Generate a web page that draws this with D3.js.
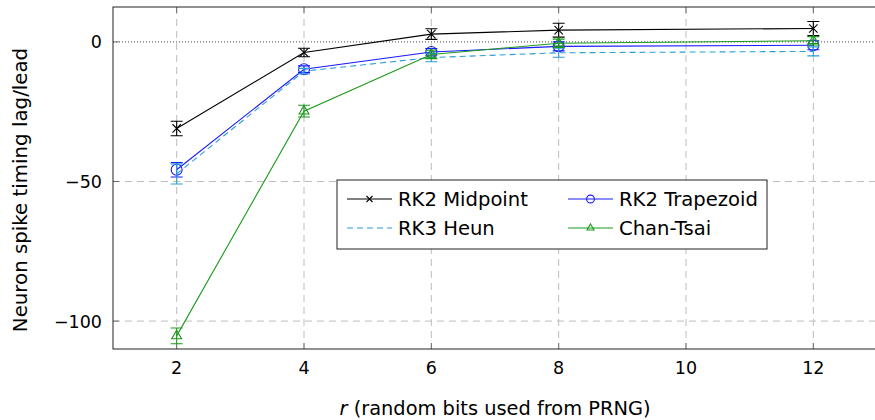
<!DOCTYPE html>
<html>
<head>
<meta charset="utf-8">
<style>
  body { margin: 0; background: #fff; }
  svg text { font-family: "DejaVu Sans", sans-serif; fill: #000; }
</style>
</head>
<body>
<div id="vis-lag"></div>
<script src="https://d3js.org/d3.v7.min.js"></script>
<script>

// Data //
// ---- //

const rBits = [2, 4, 6, 8, 12];

const midpointMean = [-31, -3.8, 2.8, 4.2, 4.8];
const midpointErr  = [2.6, 1.5, 1.9, 2.5, 2.5];

const trapezoidMean = [-45.8, -9.8, -3.6, -1.6, -1.2];
const trapezoidErr  = [2.6, 1.2, 1.2, 1.6, 1.6];

const heunMean = [-47.3, -10.5, -5.6, -3.9, -3.4];
const heunErr  = [3.6, 1.0, 1.5, 1.6, 1.6];

const chanTsaiMean = [-105.3, -24.8, -4.5, -0.5, 0.4];
const chanTsaiErr  = [2.8, 2.1, 1.5, 1.5, 1.5];

const xTicks = [2, 4, 6, 8, 10, 12];
const yTicks = [-100, -50, 0];

const seriesNames = ["RK2 Midpoint", "RK2 Trapezoid", "RK3 Heun", "Chan-Tsai"];


// Setup //
// ----- //

const W = 875, H = 420;
const svg = d3.select("#vis-lag").append("svg")
  .attr("width", W).attr("height", H);

const x = d3.scaleLinear().domain([1, 13]).range([113, 877]);
const y = d3.scaleLinear().domain([-110, 12.5]).range([349, 7]);

const series = [
  {name: seriesNames[0], mean: midpointMean, err: midpointErr, color: "#000000", dash: null, mark: "cross"},
  {name: seriesNames[1], mean: trapezoidMean, err: trapezoidErr, color: "#1a1aff", dash: null, mark: "circle"},
  {name: seriesNames[2], mean: heunMean, err: heunErr, color: "#2a9fd6", dash: "6,4", mark: null},
  {name: seriesNames[3], mean: chanTsaiMean, err: chanTsaiErr, color: "#1a9a1a", dash: null, mark: "triangle"}
];

// grid
svg.append("g").selectAll("line").data(xTicks).join("line")
  .attr("x1", d => x(d)).attr("x2", d => x(d))
  .attr("y1", y.range()[1]).attr("y2", y.range()[0])
  .attr("stroke", "#bdbdbd").attr("stroke-width", 1).attr("stroke-dasharray", "7,5");
svg.append("g").selectAll("line").data(yTicks.filter(d => d !== 0)).join("line")
  .attr("x1", x.range()[0]).attr("x2", x.range()[1])
  .attr("y1", d => y(d)).attr("y2", d => y(d))
  .attr("stroke", "#bdbdbd").attr("stroke-width", 1).attr("stroke-dasharray", "7,5");

// zero line
svg.append("line")
  .attr("x1", x.range()[0]).attr("x2", x.range()[1])
  .attr("y1", y(0)).attr("y2", y(0))
  .attr("stroke", "#444").attr("stroke-width", 1).attr("stroke-dasharray", "1,2");

// ticks (inside)
const tk = 6;
const ticks = svg.append("g").attr("stroke", "#555").attr("stroke-width", 0.8);
xTicks.forEach(d => {
  ticks.append("line").attr("x1", x(d)).attr("x2", x(d)).attr("y1", y.range()[0]).attr("y2", y.range()[0] - tk);
  ticks.append("line").attr("x1", x(d)).attr("x2", x(d)).attr("y1", y.range()[1]).attr("y2", y.range()[1] + tk);
});
yTicks.forEach(d => {
  ticks.append("line").attr("x1", x.range()[0]).attr("x2", x.range()[0] + tk).attr("y1", y(d)).attr("y2", y(d));
});

// frame
svg.append("rect")
  .attr("x", x.range()[0]).attr("y", y.range()[1])
  .attr("width", x.range()[1] - x.range()[0]).attr("height", y.range()[0] - y.range()[1])
  .attr("fill", "none").attr("stroke", "#222").attr("stroke-width", 1);

// tick labels
svg.append("g").selectAll("text").data(xTicks).join("text")
  .attr("x", d => x(d)).attr("y", 374)
  .attr("text-anchor", "middle").style("font-size", "17.5px")
  .text(d => d);
svg.append("g").selectAll("text").data(yTicks).join("text")
  .attr("x", 102).attr("y", d => y(d) + 6.5)
  .attr("text-anchor", "end").style("font-size", "17.5px")
  .text(d => d < 0 ? "\u2212" + Math.abs(d) : d);

// axis labels
const xl = svg.append("text")
  .attr("x", x(7)).attr("y", 415)
  .attr("text-anchor", "middle").style("font-size", "19.4px");
xl.append("tspan").style("font-style", "italic").text("r");
xl.append("tspan").text(" (random bits used from PRNG)");

svg.append("text")
  .attr("transform", "translate(27," + ((y.range()[0] + y.range()[1]) / 2 + 12) + ") rotate(-90)")
  .attr("text-anchor", "middle").style("font-size", "19.8px")
  .text("Neuron spike timing lag/lead");


// Markers //
// ------- //

function drawMark(g, kind, cx, cy, color, s) {
  if (kind === "cross") {
    g.append("path")
      .attr("d", `M${cx - s},${cy - s}L${cx + s},${cy + s}M${cx - s},${cy + s}L${cx + s},${cy - s}`)
      .attr("stroke", color).attr("stroke-width", 1.1).attr("fill", "none");
  } else if (kind === "circle") {
    g.append("circle").attr("cx", cx).attr("cy", cy).attr("r", s * 1.3)
      .attr("stroke", color).attr("stroke-width", 1.1).attr("fill", "none");
  } else if (kind === "triangle") {
    const r = s * 1.35;
    g.append("path")
      .attr("d", `M${cx},${cy - r}L${cx + r * 0.87},${cy + r * 0.5}L${cx - r * 0.87},${cy + r * 0.5}Z`)
      .attr("stroke", color).attr("stroke-width", 1.1).attr("fill", "none");
  }
}


// Series //
// ------ //

const line = d3.line().x(d => x(d[0])).y(d => y(d[1]));

series.forEach(s => {
  const g = svg.append("g");
  const pts = rBits.map((r, i) => [r, s.mean[i], s.err[i]]);

  // error bars
  pts.forEach(p => {
    const cx = x(p[0]), y1 = y(p[1] + p[2]), y2 = y(p[1] - p[2]);
    g.append("path")
      .attr("d", `M${cx},${y1}L${cx},${y2}M${cx - 6},${y1}L${cx + 6},${y1}M${cx - 6},${y2}L${cx + 6},${y2}`)
      .attr("stroke", s.color).attr("stroke-width", 1.1).attr("fill", "none");
  });

  g.append("path").datum(pts)
    .attr("d", line)
    .attr("fill", "none").attr("stroke", s.color).attr("stroke-width", 1.1)
    .attr("stroke-dasharray", s.dash);

  if (s.mark) pts.forEach(p => drawMark(g, s.mark, x(p[0]), y(p[1]), s.color, 4.2));
});


// Legend //
// ------ //

const leg = svg.append("g");
leg.append("rect")
  .attr("x", 337).attr("y", 180).attr("width", 430).attr("height", 69)
  .attr("fill", "#fff").attr("stroke", "#222").attr("stroke-width", 1);

const legPos = [[347, 199], [568, 199], [347, 228], [568, 228]];
series.forEach((s, i) => {
  const [lx, ly] = legPos[i];
  leg.append("line")
    .attr("x1", lx).attr("x2", lx + 45).attr("y1", ly).attr("y2", ly)
    .attr("stroke", s.color).attr("stroke-width", 1.1).attr("stroke-dasharray", s.dash);
  if (s.mark) drawMark(leg, s.mark, lx + 22.5, ly, s.color, 3);
  leg.append("text")
    .attr("x", lx + 51).attr("y", ly + 7)
    .style("font-size", "19.6px")
    .text(s.name);
});

</script>
</body>
</html>
